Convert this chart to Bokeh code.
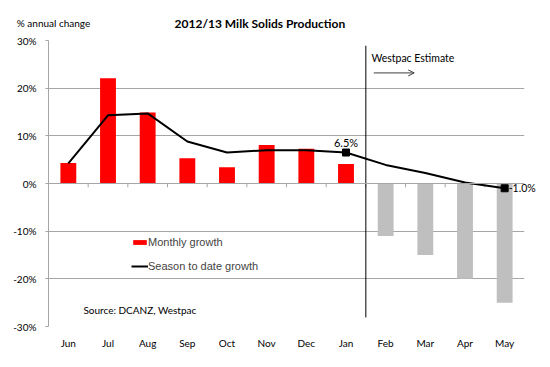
from bokeh.plotting import figure
from bokeh.models import (Range1d, FixedTicker, Label, Arrow, OpenHead, Legend, LegendItem,
                          ColumnDataSource, Span)
from bokeh.embed import file_html
from bokeh.resources import INLINE

months = ["Jun", "Jul", "Aug", "Sep", "Oct", "Nov", "Dec", "Jan", "Feb", "Mar", "Apr", "May"]
monthly_growth = [4.3, 22.1, 14.9, 5.3, 3.4, 8.1, 7.3, 4.1, -11.0, -15.0, -20.0, -25.0]
season_growth = [4.2, 14.3, 14.7, 8.8, 6.5, 7.0, 7.0, 6.5, 3.9, 2.2, 0.2, -1.0]
estimate_start = 8  # index of first estimated month (Feb)
y_ticks = [-30, -20, -10, 0, 10, 20, 30]

xc = [i + 0.5 for i in range(len(months))]
colors = ["#FF0000" if i < estimate_start else "#BFBFBF" for i in range(len(months))]

FONT = "Lato"

p = figure(width=542, height=351, output_backend="svg", toolbar_location=None,
           x_range=Range1d(0, len(months)), y_range=Range1d(-30, 30),
           min_border_left=48, min_border_right=18, min_border_top=40, min_border_bottom=23)
p.outline_line_color = None
p.background_fill_color = "white"

# y axis
p.yaxis.ticker = FixedTicker(ticks=y_ticks)
p.yaxis.major_label_overrides = {t: f"{t}%" for t in y_ticks}
p.yaxis.axis_line_color = "#a6a6a6"
p.yaxis.major_tick_line_color = "#a6a6a6"
p.yaxis.major_tick_in = 0
p.yaxis.major_tick_out = 3
p.yaxis.minor_tick_line_color = None
p.yaxis.major_label_text_font = FONT
p.yaxis.major_label_text_font_size = "10px"
p.yaxis.major_label_text_color = "black"
p.yaxis.major_label_standoff = 9

# x axis: labels at category centres
p.xaxis.ticker = FixedTicker(ticks=xc)
p.xaxis.major_label_overrides = {x: m for x, m in zip(xc, months)}
p.xaxis.axis_line_color = None
p.xaxis.major_tick_line_color = None
p.xaxis.major_tick_in = 0
p.xaxis.major_tick_out = 0
p.xaxis.minor_tick_line_color = None
p.xaxis.major_label_text_font = FONT
p.xaxis.major_label_text_font_size = "10px"
p.xaxis.major_label_text_color = "black"
p.xaxis.major_label_standoff = 10

p.xgrid.visible = False
p.ygrid.ticker = FixedTicker(ticks=[t for t in y_ticks if t != 0])
p.ygrid.grid_line_color = "#a6a6a6"
p.ygrid.grid_line_width = 1

# zero line with category boundary ticks
p.add_layout(Span(location=0, dimension="width", line_color="#a6a6a6", line_width=1))
bounds = list(range(1, len(months)))
p.segment(x0=bounds, y0=[0] * len(bounds), x1=bounds, y1=[-0.8] * len(bounds),
          line_color="#a6a6a6", line_width=1)

src = ColumnDataSource(dict(x=xc, top=monthly_growth, color=colors, season=season_growth))
bars = p.vbar(x="x", top="top", bottom=0, width=0.4, fill_color="color", line_color=None, source=src)
line = p.line(x="x", y="season", line_color="black", line_width=2, source=src)

# markers at last actual and last estimate
mk_idx = [estimate_start - 1, len(months) - 1]
p.scatter([xc[i] for i in mk_idx], [season_growth[i] for i in mk_idx], marker="square",
          size=7, fill_color="black", line_color="black")

p.add_layout(Label(x=xc[estimate_start - 1], y=season_growth[estimate_start - 1],
                   text=f"{season_growth[estimate_start - 1]:.1f}%", text_align="center",
                   text_baseline="bottom", y_offset=4, text_font=FONT, text_font_size="11px",
                   text_color="black"))
p.add_layout(Label(x=xc[-1], y=season_growth[-1], text=f"{season_growth[-1]:.1f}%",
                   text_align="left", text_baseline="middle", x_offset=4, text_font=FONT,
                   text_font_size="10.5px", text_color="black"), "above")

# estimate divider
p.segment(x0=[estimate_start], y0=[28.9], x1=[estimate_start], y1=[-28.1],
          line_color="black", line_width=1)
p.add_layout(Label(x=estimate_start + 0.14, y=26.3, text="Westpac Estimate", text_align="left",
                   text_baseline="middle", text_font=FONT, text_font_size="10.5px", text_color="black"))
p.add_layout(Arrow(x_start=estimate_start + 0.2, y_start=23.2, x_end=estimate_start + 1.22, y_end=23.2,
                   line_color="#404040", line_width=1,
                   end=OpenHead(size=6, line_color="#404040", line_width=1)))

# titles
p.add_layout(Label(x=5.33, y=33.6, text="2012/13 Milk Solids Production", text_align="center",
                   text_baseline="middle", text_font=FONT, text_font_style="bold",
                   text_font_size="12px", text_color="black"), "above")
p.add_layout(Label(x=-0.8, y=33.6, text="% annual change", text_align="left",
                   text_baseline="middle", text_font=FONT, text_font_size="10px", text_color="black"),
             "above")
p.add_layout(Label(x=0.88, y=-26.6, text="Source: DCANZ, Westpac", text_align="left",
                   text_baseline="middle", text_font=FONT, text_font_size="10px", text_color="black"))

legend = Legend(items=[LegendItem(label="Monthly growth", renderers=[bars], index=0),
                       LegendItem(label="Season to date growth", renderers=[line])],
                location=(83, 53), border_line_color=None, background_fill_alpha=0,
                padding=0, margin=0, spacing=10, glyph_width=17, glyph_height=6,
                label_standoff=0, label_text_font="Liberation Sans", label_text_font_size="11px",
                label_height=14)
p.add_layout(legend)

open("out.html", "w").write(file_html(p, INLINE))
